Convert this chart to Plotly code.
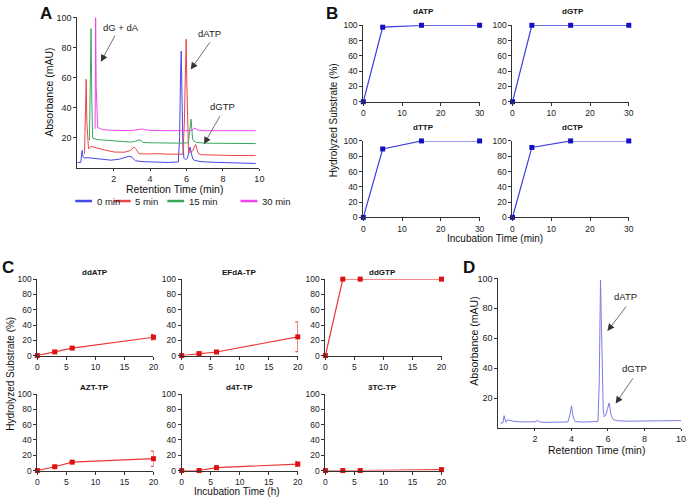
import plotly.graph_objects as go

# ---- panel A: chromatograms (retention time min, absorbance mAU)
a0_x = [0.0, 0.2, 0.24, 0.27, 0.32, 0.38, 0.6, 0.9, 1.3, 1.85, 2.3, 2.6, 2.84, 3.0, 3.2, 3.6, 4.2, 5.0, 5.55, 5.62, 5.67,
        5.71, 5.75, 5.80, 5.86, 5.94, 6.05, 6.14, 6.2, 6.26, 6.34, 6.45, 6.8, 7.5, 8.5, 9.8]
a0_y = [3.5, 3.8, 9, 11.7, 7.5, 6.7, 6.8, 6.4, 5.8, 5.2, 5.8, 6.8, 7.8, 7.2, 4.8, 4.2, 3.8, 3.7, 4.0, 20, 60,
        77.6, 50, 15, 6.5, 5.5, 6.5, 10, 13.9, 10, 6, 5, 4.2, 3.8, 3.4, 3.0]
a5_x = [0.40, 0.45, 0.49, 0.53, 0.58, 0.62, 0.76, 1.0, 1.5, 2.03, 2.6, 2.9, 3.05, 3.12, 3.2, 3.3, 3.39, 3.8, 4.4, 5.0,
        5.8, 5.88, 5.94, 5.98, 6.02, 6.07, 6.11, 6.2, 6.35, 6.44, 6.5, 6.56, 6.65, 6.8, 7.5, 8.5, 9.8]
a5_y = [9.5, 35, 58.9, 30, 14, 12.8, 14.3, 13.5, 12, 10.6, 10.5, 11.5, 13, 13.9, 13, 11, 9.5, 9.3, 9.5, 9.2,
        9.2, 30, 70, 85.6, 55, 18, 10.6, 10.4, 11.5, 14.5, 15.6, 13, 9.5, 8.8, 8.5, 8.3, 8.3]
a15_x = [0.67, 0.71, 0.76, 0.80, 0.85, 1.08, 1.6, 2.2, 2.93, 3.2, 3.39, 3.5, 3.62, 4.2, 5.0, 5.8, 6.1, 6.17, 6.22,
         6.25, 6.29, 6.34, 6.41, 6.55, 7.0, 8.0, 9.8]
a15_y = [18.5, 55, 92.6, 45, 19.8, 18.9, 18.3, 17.7, 17.2, 17.8, 18.7, 18.2, 16.9, 16.7, 16.5, 16.5, 16.8, 24, 31,
         32.4, 26, 19, 17.8, 17, 16.5, 16.3, 16.2]
a30_x = [0.98, 1.0, 1.01, 1.04, 1.08, 1.12, 1.4, 2.0, 3.0, 3.4, 3.57, 3.75, 4.2, 5.0, 6.2, 6.35, 6.47, 6.6, 7.0, 8.0, 9.8]
a30_y = [26, 70, 100, 55, 30, 26.9, 25.4, 25.0, 24.9, 25.3, 25.9, 25.3, 24.9, 24.8, 24.8, 25.5, 26.5, 25.2, 24.8, 24.8, 24.8]
a_names = ["0 min", "5 min", "15 min", "30 min"]
a_colors = ["#4747e6", "#ee4444", "#3aa85a", "#ee44ee"]

# ---- panel B: hydrolysis of dNTPs (min, %)
b_time = [0, 5, 15, 30]
b_datp = [0, 97.5, 100, 100]
b_dgtp = [0, 100, 100, 100]
b_dttp = [0, 89.5, 100, 100]
b_dctp = [0, 91.5, 100, 100]

# ---- panel C: hydrolysis of NRTI-TPs (h, %)
c_time = [0, 3, 6, 20]
c_ddatp = [0, 4.8, 9.8, 24];   c_ddatp_err = [0, 0.8, 1, 3.5]
c_efda = [0, 2.6, 4.7, 24.5];  c_efda_err = [0, 0.8, 0.8, 19.5]
c_ddgtp = [0, 100, 100, 100];  c_ddgtp_err = [0, 0, 0, 0]
c_azt = [0, 5, 11, 15.5];      c_azt_err = [0, 0.8, 1, 10]
c_d4t = [0, 0, 3.8, 8.5];      c_d4t_err = [0, 0, 0.8, 3]
c_3tc = [0, 0, 0, 1.2];        c_3tc_err = [0, 0, 0, 0.8]

# ---- panel D: chromatogram
d_x = [0.1, 0.25, 0.31, 0.36, 0.41, 0.5, 0.6, 0.8, 1.26, 1.8, 2.0, 2.14, 2.3, 2.6, 3.2, 3.8, 3.92, 4.0, 4.08, 4.2,
       4.6, 5.2, 5.45, 5.52, 5.56, 5.59, 5.63, 5.68, 5.74, 5.79, 5.88, 5.98, 6.03, 6.06, 6.1, 6.18, 6.3, 6.5, 7.0,
       8.0, 9.0, 10.0]
d_y = [3.2, 3.5, 8.2, 5, 3.8, 5.4, 5, 4.5, 4, 3.8, 4.1, 4.9, 3.9, 3.7, 3.8, 4.0, 9, 14.8, 8, 4.2,
       3.9, 4.0, 4.3, 30, 80, 98.9, 75, 30, 12, 7.5, 8.5, 13, 16.2, 16.7, 14, 8, 5.5, 4.8, 4.5,
       4.6, 4.7, 4.9]

W, H = 691, 503
FONT = "Liberation Sans, Arial, sans-serif"


def fx(p):
    return p / W


def fy(p):
    return 1 - p / H


def axis(dom, rng, tickvals, anchor, size, ticklen=3):
    return dict(domain=dom, range=rng, tickvals=tickvals, anchor=anchor, showline=True, linecolor="#333",
                linewidth=1, ticks="outside", ticklen=ticklen, tickwidth=1, tickcolor="#333", showgrid=False,
                zeroline=False, tickfont=dict(size=size, color="#222", family=FONT), fixedrange=True)


fig = go.Figure()
layout = {}

# panel A
for xs, ys, c in zip([a0_x, a5_x, a15_x, a30_x], [a0_y, a5_y, a15_y, a30_y], a_colors):
    fig.add_trace(go.Scatter(x=xs, y=ys, mode="lines", line=dict(color=c, width=1), showlegend=False,
                             xaxis="x", yaxis="y"))
layout["xaxis"] = axis([fx(76), fx(260)], [0, 10], [2, 4, 6, 8, 10], "y", 9, ticklen=2)
layout["yaxis"] = axis([fy(166.3), fy(12.7)], [0, 100], [20, 40, 60, 80, 100], "x", 9)

# panel B
b_panels = [("dATP", b_datp, 365, 98.7), ("dGTP", b_dgtp, 515.7, 98.7),
            ("dTTP", b_dttp, 365, 216.7), ("dCTP", b_dctp, 515.7, 216.7)]
titles = []
n = 2
for name, vals, x0, y0 in b_panels:
    fig.add_trace(go.Scatter(x=b_time, y=vals, mode="lines+markers", showlegend=False,
                             line=dict(color="#3b3be4", width=1.2),
                             marker=dict(symbol="square", size=5, color="#1212c4"),
                             cliponaxis=False, xaxis="x%d" % n, yaxis="y%d" % n))
    layout["xaxis%d" % n] = axis([fx(x0), fx(x0 + 117.5)], [0, 30], [0, 10, 20, 30], "y%d" % n, 8.5)
    layout["yaxis%d" % n] = axis([fy(y0), fy(y0 - 78)], [0, 100], [0, 20, 40, 60, 80, 100], "x%d" % n, 8.5)
    titles.append((name, x0 + 61, y0 - 92))
    n += 1

# panel C
c_panels = [("ddATP", c_ddatp, c_ddatp_err, 35.7, 357.7), ("EFdA-TP", c_efda, c_efda_err, 181.5, 357.7),
            ("ddGTP", c_ddgtp, c_ddgtp_err, 326.7, 357.7), ("AZT-TP", c_azt, c_azt_err, 35.7, 475),
            ("d4T-TP", c_d4t, c_d4t_err, 181.5, 475), ("3TC-TP", c_3tc, c_3tc_err, 326.7, 475)]
for name, vals, err, x0, y0 in c_panels:
    fig.add_trace(go.Scatter(x=c_time, y=vals, mode="lines+markers", showlegend=False,
                             line=dict(color="#ee3535", width=1.2),
                             marker=dict(symbol="square", size=5, color="#dd1111"),
                             error_y=dict(type="data", array=err, color="#e52a2a", thickness=1, width=2.5),
                             cliponaxis=False, xaxis="x%d" % n, yaxis="y%d" % n))
    layout["xaxis%d" % n] = axis([fx(x0), fx(x0 + 117.3)], [0, 20], [0, 5, 10, 15, 20], "y%d" % n, 8.5)
    layout["yaxis%d" % n] = axis([fy(y0), fy(y0 - 78)], [0, 100], [0, 20, 40, 60, 80, 100], "x%d" % n, 8.5)
    titles.append((name, x0 + 58, y0 - 84.5))
    n += 1

# panel D
fig.add_trace(go.Scatter(x=d_x, y=d_y, mode="lines", line=dict(color="#7c7ce6", width=1), showlegend=False,
                         xaxis="x%d" % n, yaxis="y%d" % n))
layout["xaxis%d" % n] = axis([fx(501.5), fx(686)], [0, 10], [2, 4, 6, 8, 10], "y%d" % n, 9, ticklen=2)
layout["yaxis%d" % n] = axis([fy(431.5), fy(279)], [0, 100], [20, 40, 60, 80, 100], "x%d" % n, 9)
d_ax = n

ann = []


def label(text, x, y, size, bold=False, angle=0):
    ann.append(dict(text="<b>%s</b>" % text if bold else text, x=fx(x), y=fy(y), xref="paper", yref="paper",
                    showarrow=False, xanchor="center", yanchor="middle", textangle=angle,
                    font=dict(size=size, color="#111", family=FONT)))


for t, x, y in titles:
    label(t, x, y, 8, bold=True)

for t, x, y in [("A", 44, 9), ("B", 333, 9), ("C", 6, 268), ("D", 472, 268)]:
    label(t, x, y, 17, bold=True)

label("Retention Time (min)", 174.7, 188, 10.5)
label("Absorbance (mAU)", 48, 89, 10.5, angle=-90)
label("Hydrolyzed Substrate (%)", 335, 118, 10, angle=-90)
label("Incubation Time (min)", 498.5, 238, 10)
label("Hydrolyzed Substrate (%)", 8.3, 376, 10, angle=-90)
label("Incubation Time (h)", 237.5, 496, 10)
label("Retention Time (min)", 601, 454, 10.5)
label("Absorbance (mAU)", 477.3, 343, 10.5, angle=-90)


def arrow(text, xa, ya, tx, ty, hx, hy, lx, ly):
    ann.append(dict(text=text, x=lx, y=ly, xref=xa, yref=ya, showarrow=False,
                    font=dict(size=9.5, color="#222", family=FONT)))
    ann.append(dict(text="", x=hx, y=hy, ax=tx, ay=ty, xref=xa, yref=ya, axref=xa, ayref=ya,
                    showarrow=True, arrowhead=2, arrowsize=2, arrowwidth=0.7, arrowcolor="#333"))


arrow("dG + dA", "x", "y", 2.12, 89, 1.30, 70.6, 2.39, 93.5)
arrow("dATP", "x", "y", 7.34, 84.5, 6.23, 65.4, 7.28, 89.6)
arrow("dGTP", "x", "y", 7.88, 35.4, 6.96, 15.9, 7.99, 40.6)
arrow("dATP", "x%d" % d_ax, "y%d" % d_ax, 7.06, 82.3, 5.97, 64.8, 6.98, 87.7)
arrow("dGTP", "x%d" % d_ax, "y%d" % d_ax, 7.42, 34.2, 6.42, 16.3, 7.44, 39.7)

# legend of panel A, drawn by hand to keep the short keys
shapes = []
for name, c, x0 in zip(a_names, a_colors, [74, 113, 167, 241]):
    shapes.append(dict(type="line", xref="paper", yref="paper", x0=fx(x0), x1=fx(x0 + 17), y0=fy(200), y1=fy(200),
                       line=dict(color=c, width=2.5)))
    ann.append(dict(text=name, x=fx(x0 + 19.5), y=fy(200), xref="paper", yref="paper", showarrow=False,
                    xanchor="left", yanchor="middle", font=dict(size=9.5, color="#222", family=FONT)))

fig.update_layout(width=W, height=H, margin=dict(l=0, r=0, t=0, b=0), paper_bgcolor="white",
                  plot_bgcolor="white", annotations=ann, shapes=shapes, font=dict(family=FONT), **layout)
fig.write_html("out.html", config={"displayModeBar": False}, post_script="document.body.style.margin='0';")
